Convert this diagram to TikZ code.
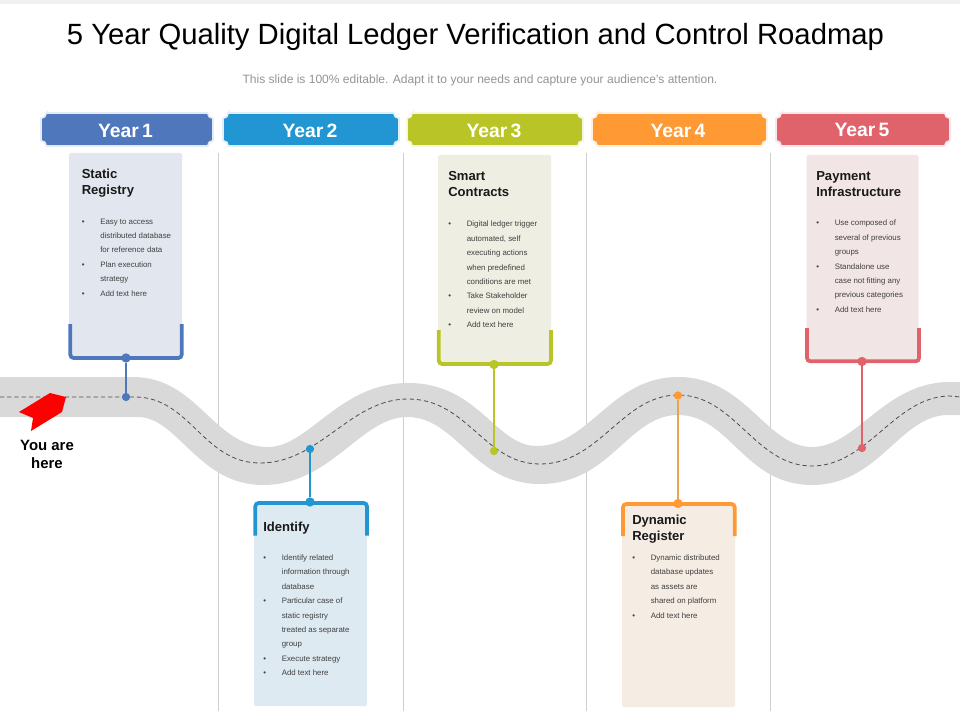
\documentclass[tikz,border=0pt]{standalone}
\usepackage{fontspec}
\setmainfont{Liberation Sans}
\definecolor{cA}{HTML}{4F77BC}
\definecolor{cB}{HTML}{2196D3}
\definecolor{cC}{HTML}{B9C526}
\definecolor{cD}{HTML}{FF9933}
\definecolor{cE}{HTML}{E0626A}
\definecolor{lD}{HTML}{EBA34F}
\definecolor{fA}{HTML}{E2E7EF}
\definecolor{fB}{HTML}{DEEAF1}
\definecolor{fC}{HTML}{EEEEE2}
\definecolor{fD}{HTML}{F5ECE3}
\definecolor{fE}{HTML}{F2E5E6}
\definecolor{road}{HTML}{D9D9D9}
\definecolor{sep}{HTML}{CFCFCF}
\definecolor{body}{HTML}{404040}
\newlength{\pxu}\setlength{\pxu}{0.75pt}
\newcommand{\Bu}[1]{\makebox[18.5\pxu][l]{\textbullet}#1}
\newcommand{\Nb}[1]{\hspace*{18.5\pxu}#1}
\newcommand{\Yr}[1]{Year\hspace{-1.7pt} #1}
\tikzset{
  x=0.75pt,y=-0.75pt,
  yearlabel/.style={text=white,font=\fontsize{14.5}{16}\selectfont\bfseries,inner sep=0pt,anchor=center},
  cardtitle/.style={font=\fontsize{9.8}{12.1}\selectfont\bfseries,align=left,anchor=north west,inner sep=0pt,text=black!90},
  cardbody/.style={font=\fontsize{5.9}{10.8}\selectfont,align=left,anchor=north west,inner sep=0pt,text=body},
  pin/.style={circle,inner sep=0pt,minimum size=7pt,fill=#1},
  roadpin/.style={circle,inner sep=0pt,minimum size=6.2pt,fill=#1},
  link/.style={draw=#1,line width=0.9pt},
  bracket/.style={draw=#1,line width=2.8pt,rounded corners=2.5pt},
  sepline/.style={draw=sep,line width=0.6pt},
  cardfill/.style={fill=#1,rounded corners=1.5pt},
}
\newcommand{\Hdr}[3]{% x0,x1,colour
  \path[fill=#3,draw=#3!15,line width=1.2pt] (#1+5.33,113) -- (#2-5.33,113) arc[start angle=180,end angle=270,radius=4pt]
   -- (#2,140.67) arc[start angle=90,end angle=180,radius=4pt] -- (#1+5.33,146)
   arc[start angle=0,end angle=90,radius=4pt] -- (#1,118.33) arc[start angle=270,end angle=360,radius=4pt] -- cycle;
}
\begin{document}
\begin{tikzpicture}
\useasboundingbox (0,0) rectangle (960,720);
\fill[white] (0,0) rectangle (960,720);
\fill[black!6] (0,0) rectangle (960,4.5);
\node[font=\fontsize{21.95}{26}\selectfont,inner sep=0pt] (title) at (475.5,37) {5 Year Quality Digital Ledger Verification and Control Roadmap};
\node[font=\fontsize{9.03}{11}\selectfont,text=black!42,inner sep=0pt] (sub) at (480,80) {This slide is 100\% editable. Adapt it to your needs and capture your audience's attention.};
% separators
\foreach \X/\N in {218.5/a,403/b,586.5/c,770.5/d}{
  \coordinate (s\N t) at (\X,153);
  \coordinate (s\N b) at (\X,711);
  \draw[sepline] (s\N t) -- (s\N b);
}
% road surface
\fill[road] (0,377) -- (133,377) .. controls (198,377) and (213,447) .. (268,447)
 .. controls (309,447) and (339,383) .. (408,383)
 .. controls (479,383) and (495,446) .. (537,446)
 .. controls (589,446) and (611,377) .. (678,377)
 .. controls (746,377) and (766,447) .. (812,447)
 .. controls (857,447) and (884,382) .. (950,382) -- (960,382)
 -- (960,415) -- (948,415)
 .. controls (900,415) and (879,485) .. (812,485)
 .. controls (744,485) and (730,415) .. (678,415)
 .. controls (628,415) and (611,484) .. (540,484)
 .. controls (473,484) and (457,417) .. (407,417)
 .. controls (361,417) and (331,485) .. (263,485)
 .. controls (198,485) and (178,417) .. (138,417)
 -- (0,417) -- cycle;
% centre line
\draw[black!70,line width=0.6pt,dash pattern=on 3.2pt off 2.2pt] (0,397) -- (135,397) .. controls (190,397) and (203,463) .. (260,463)
 .. controls (320,463) and (350,399) .. (408,399)
 .. controls (468,399) and (484,464) .. (540,464)
 .. controls (600,464) and (622,395) .. (678,395)
 .. controls (735,395) and (755,466) .. (812,466)
 .. controls (868,466) and (895,396) .. (950,396) -- (960,397);
% headers
\Hdr{41}{213}{cA}
\Hdr{223}{399}{cB}
\Hdr{407}{583}{cC}
\Hdr{592}{767}{cD}
\Hdr{776}{950}{cE}
\node[yearlabel] (y1) at (125.5,130.5) {\Yr{1}};
\node[yearlabel] (y2) at (310,130.5) {\Yr{2}};
\node[yearlabel] (y3) at (494,130.5) {\Yr{3}};
\node[yearlabel] (y4) at (678,130.5) {\Yr{4}};
\node[yearlabel] (y5) at (862,129.5) {\Yr{5}};
% cards
\fill[cardfill=fA] (69,153) rectangle (182,358);
\draw[bracket=cA] (70.3,324) -- (70.3,358) -- (181.7,358) -- (181.7,324);
\fill[cardfill=fC] (438,155) rectangle (551,364);
\draw[bracket=cC] (438.8,330) -- (438.8,364) -- (550.9,364) -- (550.9,330);
\fill[cardfill=fE] (806.5,155) rectangle (918.5,361);
\draw[bracket=cE] (807,328) -- (807,361.3) -- (919,361.3) -- (919,328);
\fill[cardfill=fB] (254,503) rectangle (367,706);
\draw[bracket=cB] (255.3,535.5) -- (255.3,503) -- (367,503) -- (367,535.5);
\fill[cardfill=fD] (622,504) rectangle (735,707);
\draw[bracket=cD] (623,536) -- (623,504) -- (734.7,504) -- (734.7,536);
% pins and links
\node[pin=cA] (a1) at (126,358) {}; \node[roadpin=cA] (a2) at (126,397) {};
\node[pin=cB] (b1) at (310,502) {}; \node[roadpin=cB] (b2) at (310,449) {};
\node[pin=cC] (c1) at (494,364.5) {}; \node[roadpin=cC] (c2) at (494,451) {};
\node[pin=cD] (d1) at (678,503.5) {}; \node[roadpin=cD] (d2) at (678,395.5) {};
\node[pin=cE] (e1) at (862,361.5) {}; \node[roadpin=cE] (e2) at (862,448) {};
\draw[link=cA] (a1) -- (a2);
\draw[link=cB] (b1) -- (b2);
\draw[link=cC] (c1) -- (c2);
\draw[link=lD] (d1) -- (d2);
\draw[link=cE] (e1) -- (e2);
% card text
\node[cardtitle] (t1) at (81.5,169) {Static\\Registry};
\node[cardbody] (b1t) at (81.5,218.5) {\Bu{Easy to access}\\\Nb{distributed database}\\\Nb{for reference data}\\\Bu{Plan execution}\\\Nb{strategy}\\\Bu{Add text here}};
\node[cardtitle] (t2) at (263,522) {Identify};
\node[cardbody] (b2t) at (263,554.5) {\Bu{Identify related}\\\Nb{information through}\\\Nb{database}\\\Bu{Particular case of}\\\Nb{static registry}\\\Nb{treated as separate}\\\Nb{group}\\\Bu{Execute strategy}\\\Bu{Add text here}};
\node[cardtitle] (t3) at (448,171) {Smart\\Contracts};
\node[cardbody] (b3t) at (448,221) {\Bu{Digital ledger trigger}\\\Nb{automated, self}\\\Nb{executing actions}\\\Nb{when predefined}\\\Nb{conditions are met}\\\Bu{Take Stakeholder}\\\Nb{review on model}\\\Bu{Add text here}};
\node[cardtitle] (t4) at (632,515) {Dynamic\\Register};
\node[cardbody] (b4t) at (632,554.5) {\Bu{Dynamic distributed}\\\Nb{database updates}\\\Nb{as assets are}\\\Nb{shared on platform}\\\Bu{Add text here}};
\node[cardtitle] (t5) at (816,171) {Payment\\Infrastructure};
\node[cardbody] (b5t) at (816,220) {\Bu{Use composed of}\\\Nb{several of previous}\\\Nb{groups}\\\Bu{Standalone use}\\\Nb{case not fitting any}\\\Nb{previous categories}\\\Bu{Add text here}};
% marker
\fill[red] (19,412) -- (50,393) -- (66,397) -- (62,412) -- (31,431) -- (33,418) -- cycle;
\node[font=\fontsize{11.2}{13.5}\selectfont\bfseries,align=center,inner sep=0pt] (here) at (47,454) {You are\\here};
\end{tikzpicture}
\end{document}
